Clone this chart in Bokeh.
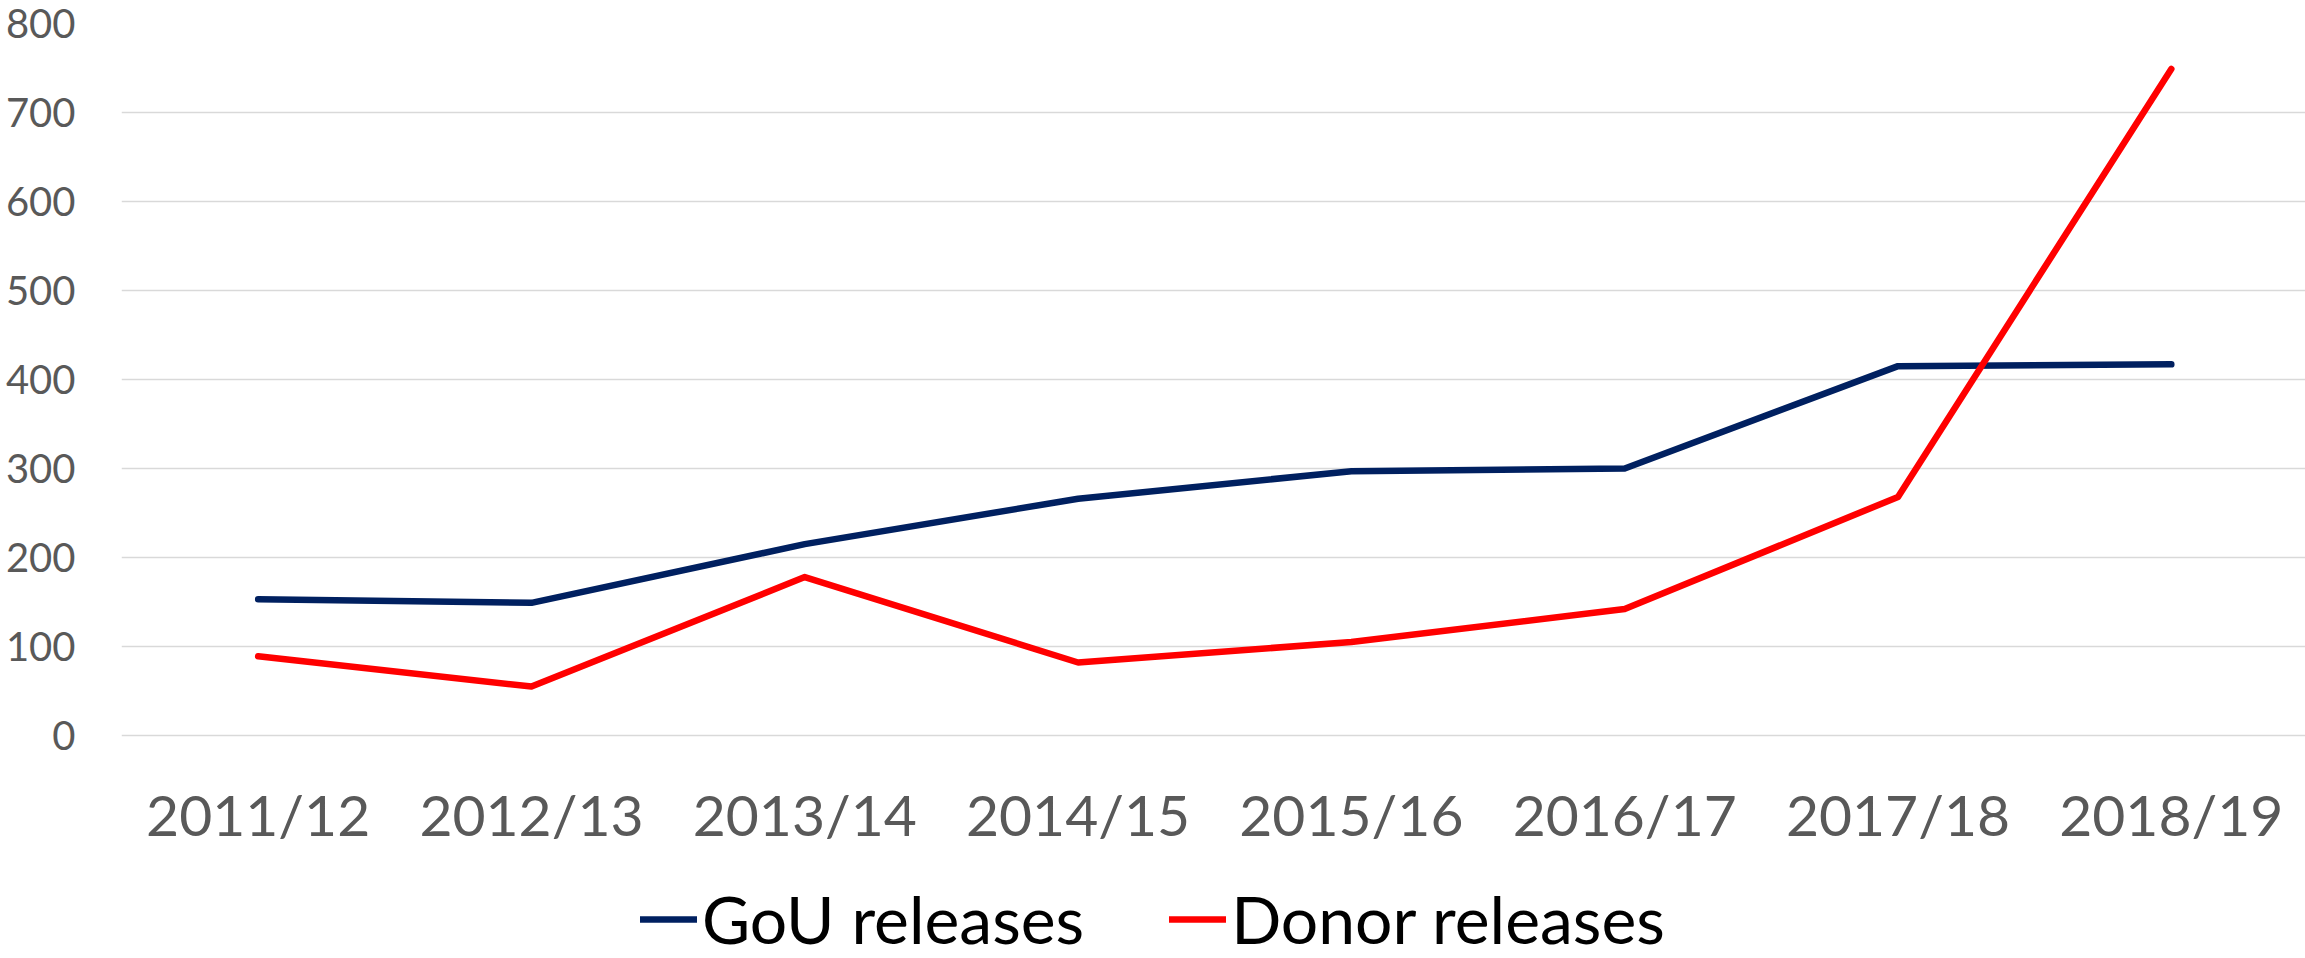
from bokeh.plotting import figure
from bokeh.models import Range1d, FixedTicker, Legend, LegendItem
from bokeh.embed import file_html
from bokeh.resources import INLINE

years = ["2011/12", "2012/13", "2013/14", "2014/15", "2015/16", "2016/17", "2017/18", "2018/19"]
gou_releases = [153, 149, 215, 266, 297, 300, 415, 417]
donor_releases = [89, 55, 178, 82, 105, 142, 268, 749]
y_ticks = [0, 100, 200, 300, 400, 500, 600, 700, 800]

xs = list(range(len(years)))

FONT = "Lato"
LABEL_COLOR = "#595959"

# frame extends below the zero line so the category labels and legend sit inside it
p = figure(
    width=2305, height=958,
    output_backend="svg", toolbar_location=None,
    x_range=Range1d(-0.5, 7.491), y_range=Range1d(-250.6, 800),
    min_border_left=121, min_border_right=0, min_border_top=23, min_border_bottom=0,
)
p.outline_line_color = None
p.background_fill_color = "white"
p.border_fill_color = "white"

# x axis drawn at y = 0
p.xaxis.fixed_location = 0
p.xaxis.ticker = FixedTicker(ticks=xs)
p.xaxis.major_label_overrides = {i: y for i, y in enumerate(years)}
p.xaxis.axis_line_color = None
p.xaxis.major_tick_line_color = None
p.xaxis.minor_tick_line_color = None
p.xaxis.major_tick_out = 0
p.xaxis.major_tick_in = 0
p.xaxis.major_label_standoff = 45
p.xaxis.major_label_text_font = FONT
p.xaxis.major_label_text_font_size = "57px"
p.xaxis.major_label_text_color = LABEL_COLOR
p.xgrid.grid_line_color = None

# y axis
p.yaxis.ticker = FixedTicker(ticks=y_ticks)
p.yaxis.axis_line_color = None
p.yaxis.major_tick_line_color = None
p.yaxis.minor_tick_line_color = None
p.yaxis.major_tick_out = 0
p.yaxis.major_tick_in = 0
p.yaxis.major_label_standoff = 46
p.yaxis.major_label_text_font = FONT
p.yaxis.major_label_text_font_size = "40px"
p.yaxis.major_label_text_color = LABEL_COLOR
p.ygrid.grid_line_color = "#d9d9d9"
p.ygrid.grid_line_width = 1.5

r_gou = p.line(xs, gou_releases, line_color="#002060", line_width=6.5,
               line_cap="round", line_join="round")
r_don = p.line(xs, donor_releases, line_color="#ff0000", line_width=6.5,
               line_cap="round", line_join="round")

legend = Legend(
    items=[LegendItem(label="GoU releases", renderers=[r_gou]),
           LegendItem(label="Donor releases", renderers=[r_don])],
    orientation="horizontal",
    location=(519, 0),
    glyph_width=57, glyph_height=40,
    label_standoff=5, spacing=85,
    padding=0, margin=0,
    border_line_color=None, background_fill_alpha=0,
    label_text_font=FONT, label_text_font_size="66px", label_text_color="black",
)
p.add_layout(legend, "center")

open("out.html", "w").write(file_html(p, INLINE))
